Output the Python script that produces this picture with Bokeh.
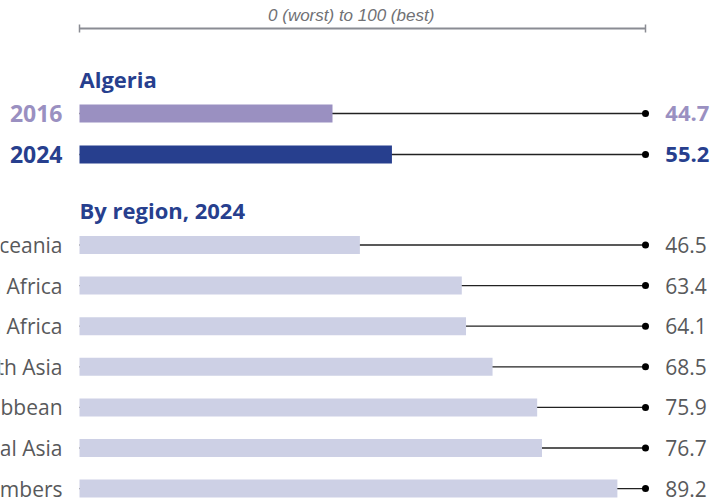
from bokeh.plotting import figure
from bokeh.models import Range1d, ColumnDataSource
from bokeh.core.properties import value
from bokeh.embed import file_html
from bokeh.resources import INLINE

# ---- data ----
country = "Algeria"
years = ["2016", "2024"]
country_scores = [44.7, 55.2]
region_names = [
    "Oceania",
    "Sub-Saharan Africa",
    "Middle East and North Africa",
    "East and South Asia",
    "Latin America and the Caribbean",
    "Eastern Europe and Central Asia",
    "OECD members",
]
region_scores = [46.5, 63.4, 64.1, 68.5, 75.9, 76.7, 89.2]
scale_min, scale_max = 0, 100
scale_label = "0 (worst) to 100 (best)"
region_title = "By region, 2024"

# ---- layout / styles ----
W, H = 712, 499
PX0 = 79.0          # canvas pixel of value 0
PX_PER = 5.66       # pixels per unit (country section + scale)
PX_PER_REG = 6.03   # pixels per unit used by the region bars in the original
FONT = "Open Sans"
NAVY = "#273f8e"
LAV = "#9a90c1"
LIGHT = "#cdd0e5"
GRAY = "#58595b"

p = figure(width=W, height=H, output_backend="svg", toolbar_location=None,
           x_range=Range1d(-PX0 / PX_PER, (W - PX0) / PX_PER),
           y_range=Range1d(H, 0), min_border=0)
p.extra_x_ranges = {"regions": Range1d(-PX0 / PX_PER_REG, (W - PX0) / PX_PER_REG)}
p.axis.visible = False
p.grid.visible = False
p.outline_line_color = None
p.background_fill_color = None
p.border_fill_color = None

# scale bar on top
scale_y = 28
p.segment(x0=[scale_min], x1=[scale_max], y0=[scale_y], y1=[scale_y],
          line_color="#8a8c93", line_width=2)
p.segment(x0=[scale_min, scale_max], x1=[scale_min, scale_max],
          y0=[scale_y - 4] * 2, y1=[scale_y + 4] * 2, line_color="#8a8c93", line_width=1.5)
p.text(x=[48], y=[15], text=[scale_label], text_align="center", text_baseline="middle",
       text_font=value("Liberation Sans"), text_font_style="italic",
       text_font_size="17px", text_color="#707175")

# country section
p.text(x=[0], y=[78], text=[country], text_align="left", text_baseline="middle",
       text_font=value(FONT), text_font_style="bold", text_font_size="22px", text_color=NAVY)
top_y = [113 + 41 * i for i in range(len(years))]
top_colors = [LAV, NAVY]
src_top = ColumnDataSource(dict(y=top_y, v=country_scores, c=top_colors, yr=years,
                                lab=[f"{s:.1f}" for s in country_scores],
                                start=[scale_min] * len(years),
                                end=[scale_max] * len(years)))
p.segment(x0="start", x1="end", y0="y", y1="y", line_color="#222222", line_width=1.3, source=src_top)
p.hbar(y="y", left=0, right="v", height=18, fill_color="c", line_color=None, source=src_top)
p.scatter(x="end", y="y", size=7, fill_color="black", line_color=None, source=src_top)
p.text(x=-3, y="y", text="yr", text_align="right", text_baseline="middle",
       text_font=value(FONT), text_font_style="bold", text_font_size="23px",
       text_color="c", source=src_top)
p.text(x=103.5, y="y", text="lab", text_align="left", text_baseline="middle",
       text_font=value(FONT), text_font_style="bold", text_font_size="22px",
       text_color="c", source=src_top)

# region section
p.text(x=[0], y=[209], text=[region_title], text_align="left", text_baseline="middle",
       text_font=value(FONT), text_font_style="bold", text_font_size="22px", text_color=NAVY)
reg_y = [244.5 + 40.6 * i for i in range(len(region_names))]
src_reg = ColumnDataSource(dict(y=reg_y, v=region_scores, name=region_names,
                                lab=[f"{s:.1f}" for s in region_scores],
                                start=[scale_min] * len(region_names),
                                end=[scale_max] * len(region_names)))
p.segment(x0="start", x1="end", y0="y", y1="y", line_color="#222222", line_width=1.3, source=src_reg)
p.hbar(y="y", left=0, right="v", height=18, fill_color=LIGHT, line_color=None,
       source=src_reg, x_range_name="regions")
p.scatter(x="end", y="y", size=7, fill_color="black", line_color=None, source=src_reg)
p.text(x=-3, y="y", text="name", text_align="right", text_baseline="middle",
       text_font=value(FONT), text_font_size="21px", text_color=GRAY, source=src_reg)
p.text(x=103.5, y="y", text="lab", text_align="left", text_baseline="middle",
       text_font=value(FONT), text_font_size="21px", text_color=GRAY, source=src_reg)

open("out.html", "w").write(file_html(p, INLINE))
